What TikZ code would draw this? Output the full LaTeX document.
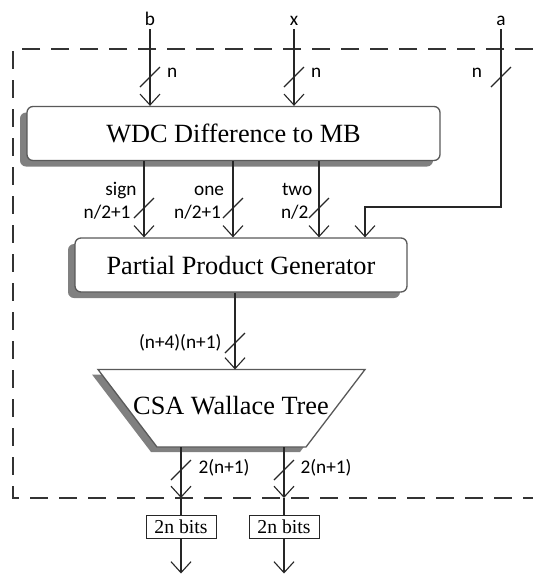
\documentclass[tikz,border=0pt]{standalone}
\usepackage{fontspec}
\setmainfont{Liberation Serif}
\newfontfamily\labelfont{Carlito}
\usetikzlibrary{arrows.meta,shadows,calc}
\begin{document}
\begin{tikzpicture}[x=1pt,y=-1pt,
  wire/.style={line width=1.1pt, draw=black!85},
  feed/.style={wire, -{Straight Barb[length=11pt,width=20pt]}},
  frame/.style={line width=1.2pt, draw=black!80, dash pattern=on 18pt off 11pt},
  block/.style={draw=black!65, line width=1.3pt, fill=white, rounded corners=6pt,
    inner sep=0pt, minimum height=54pt, font=\fontsize{26.3}{30}\selectfont,
    drop shadow={shadow xshift=-7pt, shadow yshift=-6pt, fill=black!50, opacity=1}},
  bitbox/.style={draw=black!85, line width=1pt, fill=white, inner sep=0pt,
    minimum width=70pt, minimum height=23pt, font=\fontsize{19.7}{22}\selectfont},
  lbl/.style={font=\labelfont\fontsize{19.3}{22}\selectfont, inner sep=0pt, outer sep=0pt},
]
\useasboundingbox (0,0) rectangle (533,574);

% dashed boundary of the multiplier core
\draw[frame] (533,49) -- (13,49) -- (13,498) -- (533,498);

% main blocks
\node[block, minimum width=413pt] (wdc) at (233.5,133.5) {WDC Difference to MB};
\node[block, minimum width=332pt] (ppg) at (241,265) {Partial Product Generator};

% CSA Wallace tree (trapezoid, wide side on top)
\coordinate (csatl) at (98,369.5);
\coordinate (csatr) at (365,369.5);
\coordinate (csabr) at (306,447);
\coordinate (csabl) at (157,447);
\fill[black!50] ([shift={(-6,5)}]csatl) -- ([shift={(-6,5)}]csatr) -- ([shift={(-6,5)}]csabr) -- ([shift={(-6,5)}]csabl) -- cycle;
\draw[draw=black!65, line width=1.3pt, fill=white] (csatl) -- (csatr) -- (csabr) -- (csabl) -- cycle;
\node[inner sep=0pt, font=\fontsize{26.3}{30}\selectfont] (csa) at (231,406) {CSA Wallace Tree};

% input labels
\node[lbl, anchor=base] (blab) at (150,25) {b};
\node[lbl, anchor=base] (xlab) at (294,25) {x};
\node[lbl, anchor=base] (alab) at (501,25) {a};

% inputs into the WDC block
\draw[feed] ([yshift=-4pt]blab.south) -- (blab.south |- wdc.north);
\draw[feed] ([yshift=-4pt]xlab.south) -- (xlab.south |- wdc.north);
\coordinate (abend) at (365,207);
\draw[feed] ([yshift=-4pt]alab.south) |- (abend) -- (abend |- ppg.north);

% WDC outputs into the partial product generator
\coordinate (sgn) at (144,160);
\coordinate (one) at (233,160);
\coordinate (two) at (319,160);
\draw[feed] (sgn |- wdc.south) -- (sgn |- ppg.north);
\draw[feed] (one |- wdc.south) -- (one |- ppg.north);
\draw[feed] (two |- wdc.south) -- (two |- ppg.north);

% partial products into the Wallace tree
\coordinate (pp) at (235,292);
\draw[feed] (pp |- ppg.south) -- (pp |- csatl);

% Wallace tree outputs
\coordinate (o1) at (181,498);
\coordinate (o2) at (284,498);
\node[bitbox] (r1) at (181,526.5) {2n bits};
\node[bitbox] (r2) at (284,526.5) {2n bits};
\coordinate (e1) at (181,573.5);
\coordinate (e2) at (284,573.5);
\draw[feed] (o1 |- csabl) -- (o1);
\draw[feed] (o2 |- csabl) -- (o2);
\draw[wire] (o1) -- (r1.north);
\draw[wire] (o2) -- (r2.north);
\draw[feed] (r1.south) -- (e1);
\draw[feed] (r2.south) -- (e2);

% bus-width marks
\foreach \cx/\cy in {150/77, 294/77, 501/77, 144/208, 233/208, 319/208, 235/343, 181/470, 284/470}
  \draw[wire] (\cx-10,\cy+10) -- (\cx+10,\cy-10);

% bus-width labels
\node[lbl, anchor=base west] (nb) at (167,77) {n};
\node[lbl, anchor=base west] (nx) at (311,77) {n};
\node[lbl, anchor=base east] (na) at (482,77) {n};
\node[lbl, anchor=base east] (sgnl) at (136.5,195) {sign};
\node[lbl, anchor=base east] (sgnw) at (130.5,218.5) {n/2+1};
\node[lbl, anchor=base east] (onel) at (224,195) {one};
\node[lbl, anchor=base east] (onew) at (221,218.5) {n/2+1};
\node[lbl, anchor=base west] (twol) at (282,195) {two};
\node[lbl, anchor=base west] (twow) at (281,218.5) {n/2};
\node[lbl, anchor=base east] (ppw) at (221.5,348) {(n+4)(n+1)};
\node[lbl, anchor=base west] (w1) at (198.5,473) {2(n+1)};
\node[lbl, anchor=base west] (w2) at (300.5,473) {2(n+1)};
\end{tikzpicture}
\end{document}
